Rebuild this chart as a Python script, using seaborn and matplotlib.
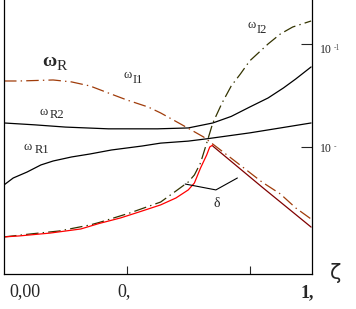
import numpy as np
import pandas as pd
import matplotlib
matplotlib.use('Agg')
import matplotlib.pyplot as plt
import seaborn as sns

# values (log axis on the right)
zeta_r1 = [0, 0.03, 0.075, 0.12, 0.16, 0.22, 0.28, 0.35, 0.45, 0.51, 0.6,
           0.66, 0.8, 0.9, 1.0]
omega_r1 = [0.00428, 0.00500, 0.00571, 0.00669, 0.00731, 0.00800, 0.00855,
            0.00935, 0.01022, 0.0109, 0.0114, 0.0120, 0.0137, 0.0153, 0.0171]

zeta_r2 = [0, 0.1, 0.2, 0.34, 0.5, 0.6, 0.68, 0.74, 0.8, 0.86, 0.91, 0.95, 1.0]
omega_r2 = [0.0171, 0.0164, 0.0156, 0.0150, 0.0150, 0.0153, 0.0171, 0.0198,
            0.0244, 0.0299, 0.0374, 0.0457, 0.0598]

zeta_i1 = [0, 0.05, 0.16, 0.22, 0.28, 0.34, 0.4, 0.47, 0.51, 0.58, 0.65,
           0.76, 0.84, 0.9, 0.95, 1.0]
omega_i1 = [0.0437, 0.0437, 0.0447, 0.0428, 0.0391, 0.0334, 0.0286, 0.0244,
            0.0214, 0.0164, 0.0125, 0.0070, 0.00457, 0.0035, 0.00256, 0.0020]

zeta_i2 = [0, 0.085, 0.18, 0.28, 0.31, 0.41, 0.51, 0.56, 0.6, 0.62, 0.64,
           0.66, 0.68, 0.71, 0.74, 0.77, 0.8, 0.86, 0.9, 0.94, 1.0]
omega_i2 = [0.00134, 0.00143, 0.00153, 0.00175, 0.00185, 0.00229, 0.00292,
            0.00374, 0.00457, 0.00535, 0.00700, 0.0109, 0.0171, 0.0267,
            0.0391, 0.0512, 0.0684, 0.100, 0.125, 0.146, 0.167]

zeta_rise = [0, 0.05, 0.15, 0.25, 0.31, 0.38, 0.44, 0.51, 0.56, 0.6, 0.62,
             0.64, 0.66, 0.67, 0.68]
omega_rise = [0.00134, 0.00137, 0.00146, 0.00160, 0.00181, 0.00205, 0.00234,
              0.00274, 0.00320, 0.00383, 0.00447, 0.00625, 0.00836, 0.0100,
              0.01045]

zeta_fall = [0.68, 0.84, 1.0]
omega_fall = [0.0102, 0.00409, 0.00167]

zeta_delta = [0.59, 0.69, 0.76]
delta = [0.00437, 0.00383, 0.00500]

y_ticks = [0.1, 0.01]
y_ticklabels = [('10', '-1'), ('10', '-')]

W, H = 356, 309
sns.set_style("white")
plt.rcParams['font.family'] = ['Liberation Serif', 'DejaVu Serif']
plt.rcParams['lines.scale_dashes'] = False

fig = plt.figure(figsize=(W / 100, H / 100), dpi=100)
ax = fig.add_axes([4 / W, 1 - 274 / H, 308 / W, 274 / H])

dashdot = (0, (9, 3, 1, 3))
sns.lineplot(x=zeta_r1, y=omega_r1, color='black', lw=0.9, ax=ax)
sns.lineplot(x=zeta_r2, y=omega_r2, color='black', lw=0.9, ax=ax)
sns.lineplot(x=zeta_i1, y=omega_i1, color='#a03c0a', lw=0.9, linestyle=dashdot, ax=ax)
sns.lineplot(x=zeta_i2, y=omega_i2, color='#333300', lw=0.9, linestyle=dashdot, ax=ax)
sns.lineplot(x=zeta_rise, y=omega_rise, color='red', lw=0.9, ax=ax)
sns.lineplot(x=zeta_fall, y=omega_fall, color='#800000', lw=0.9, ax=ax)
sns.lineplot(x=zeta_delta, y=delta, color='black', lw=0.8, ax=ax)

ax.set_yscale('log')
ax.set_ylim(0.000585, 0.267)
ax.set_xlim(0, 1.003)
ax.minorticks_off()
ax.yaxis.tick_right()
ax.set_yticks(y_ticks)
ax.set_yticklabels([])
ax.tick_params(axis='y', direction='in', length=8, width=0.8, right=True, left=False)
ax.set_xticks([0.4, 0.8])
ax.set_xticklabels([])
ax.tick_params(axis='x', direction='in', length=6, width=0.8, bottom=True)
for s in ['left', 'bottom', 'right']:
    ax.spines[s].set_color('black')
    ax.spines[s].set_linewidth(0.9)
ax.spines['top'].set_visible(False)


def put(px, py, s, size, **kw):
    fig.text(px / W, 1 - py / H, s, fontsize=size, ha='left', va='baseline', **kw)


# right axis labels
for (big, small), py in zip(y_ticklabels, [53, 152]):
    put(320, py, big, 8.5)
    put(334, py - 3, small, 5.5, color='#555555')

# bottom labels
put(9, 296, '0,00', 13)
put(117, 296, '0,', 13)
put(301, 297, '1,', 13, fontweight='bold')
fig.text(336 / W, 1 - 273 / H, 'ζ', fontsize=15, ha='center', va='center',
         family=['DejaVu Sans'])

# curve labels
put(42, 66, 'ω', 14, fontweight='bold')
put(57, 70, 'R', 11)
put(124, 78, 'ω', 9)
put(133, 83, 'I1', 9)
put(39, 115, 'ω', 9)
put(50, 118, 'R2', 9)
put(24, 150, 'ω', 9)
put(35, 153, 'R1', 9)
put(247, 28, 'ω', 9)
put(257, 33, 'I2', 9)
put(214, 207, 'δ', 10)

plt.savefig('out.png', dpi=100)
